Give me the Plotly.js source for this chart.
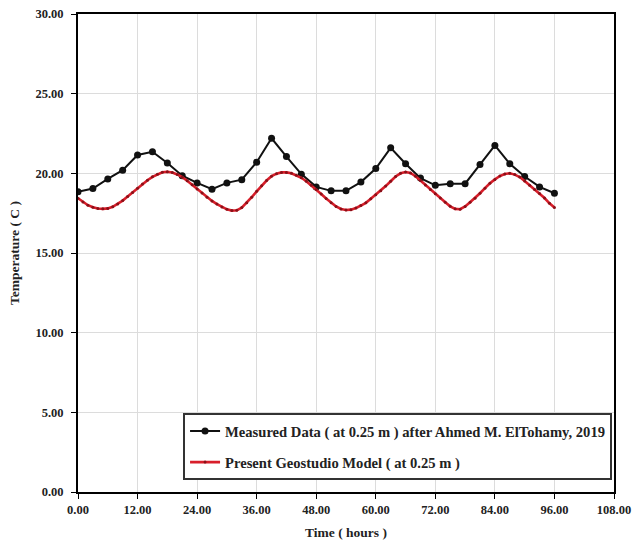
<!DOCTYPE html>
<html>
<head>
<meta charset="utf-8">
<script src="https://cdn.plot.ly/plotly-3.0.1.min.js"></script>
<style>
  html, body { margin: 0; padding: 0; background: #ffffff; }
  #chart { width: 638px; height: 557px; }
</style>
</head>
<body>
<div id="chart"></div>
<script>
// Measured soil temperature at 0.25 m depth, every 3 hours
const measuredTime = [0, 3, 6, 9, 12, 15, 18, 21, 24, 27, 30, 33, 36, 39, 42, 45, 48,
  51, 54, 57, 60, 63, 66, 69, 72, 75, 78, 81, 84, 87, 90, 93, 96];
const measuredTemp = [18.85, 19.05, 19.65, 20.2, 21.15, 21.35, 20.65, 19.85, 19.4, 19.0,
  19.4, 19.6, 20.7, 22.2, 21.05, 19.95, 19.15, 18.9, 18.9, 19.45, 20.3, 21.6, 20.6,
  19.7, 19.25, 19.35, 19.35, 20.55, 21.75, 20.6, 19.8, 19.15, 18.75];

// Geostudio model output at 0.25 m depth, hourly
const modelTime = [];
for (let h = 0; h <= 96; h++) modelTime.push(h);
const modelTemp = [18.44, 18.2, 18.0, 17.87, 17.79, 17.77, 17.8, 17.9, 18.07, 18.29,
  18.54, 18.8, 19.07, 19.33, 19.57, 19.78, 19.95, 20.07, 20.1, 20.05,
  19.93, 19.76, 19.53, 19.28, 19.02, 18.76, 18.5, 18.27, 18.07, 17.89,
  17.74, 17.66, 17.68, 17.85, 18.15, 18.5, 18.87, 19.22, 19.55, 19.82,
  19.98, 20.06, 20.06, 20.0, 19.88, 19.72, 19.5, 19.25, 18.98, 18.7,
  18.42, 18.15, 17.92, 17.76, 17.7, 17.72, 17.82, 17.98, 18.15, 18.4,
  18.65, 18.9, 19.2, 19.5, 19.8, 20.0, 20.08, 20.02, 19.82, 19.55,
  19.27, 18.98, 18.72, 18.45, 18.18, 17.93, 17.77, 17.75, 17.92, 18.18,
  18.44, 18.75, 19.07, 19.38, 19.62, 19.83, 19.96, 20.0, 19.92, 19.77,
  19.52, 19.25, 18.98, 18.73, 18.45, 18.12, 17.85];

const xTicks = [0, 12, 24, 36, 48, 60, 72, 84, 96, 108];
const yTicks = [0, 5, 10, 15, 20, 25, 30];

const seriesNames = [
  "Measured Data ( at 0.25 m ) after Ahmed M. ElTohamy, 2019",
  "Present Geostudio Model ( at 0.25 m )"
];

const fontFamily = "Liberation Serif, Times New Roman, serif";

const traces = [
  {
    x: measuredTime, y: measuredTemp,
    name: seriesNames[0],
    legendgroup: "a",
    type: "scatter", mode: "lines+markers",
    line: { color: "#111111", width: 2 },
    marker: { color: "#111111", size: 7, symbol: "circle" }
  },
  {
    x: modelTime, y: modelTemp,
    name: seriesNames[1],
    legendgroup: "b",
    type: "scatter", mode: "lines+markers",
    line: { color: "#d81e2a", width: 2.6 },
    marker: { color: "#8a1018", size: 3, symbol: "circle" }
  }
];

const axisCommon = {
  showline: true, linecolor: "#000000", linewidth: 2, mirror: true,
  showgrid: true, gridcolor: "#dcdcdc", gridwidth: 1,
  zeroline: false,
  ticks: "outside", ticklen: 5, tickcolor: "#000000", tickwidth: 1,
  tickformat: ".2f",
  tickfont: { family: fontFamily, size: 12.5, color: "#222222", weight: "bold" }
};

const layout = {
  width: 638, height: 557,
  paper_bgcolor: "#ffffff", plot_bgcolor: "#ffffff",
  margin: { l: 78, r: 24, t: 14, b: 65 },
  showlegend: true,
  xaxis: Object.assign({}, axisCommon, {
    range: [0, 108], tickvals: xTicks,
    title: { text: "Time ( hours )", standoff: 12,
      font: { family: fontFamily, size: 13.5, color: "#222222", weight: "bold" } }
  }),
  yaxis: Object.assign({}, axisCommon, {
    range: [0, 30], tickvals: yTicks,
    ticklabelstandoff: 5,
    title: { text: "Temperature ( C )", standoff: 13,
      font: { family: fontFamily, size: 13.5, color: "#222222", weight: "bold" } }
  }),
  legend: {
    x: 0.196, y: 0.165, xanchor: "left", yanchor: "top",
    bgcolor: "#ffffff", bordercolor: "#333333", borderwidth: 2,
    tracegroupgap: 9, itemwidth: 30,
    font: { family: fontFamily, size: 14.6, color: "#222222", weight: "bold" }
  }
};

Plotly.newPlot("chart", traces, layout, { displayModeBar: false, staticPlot: true });
</script>
</body>
</html>
